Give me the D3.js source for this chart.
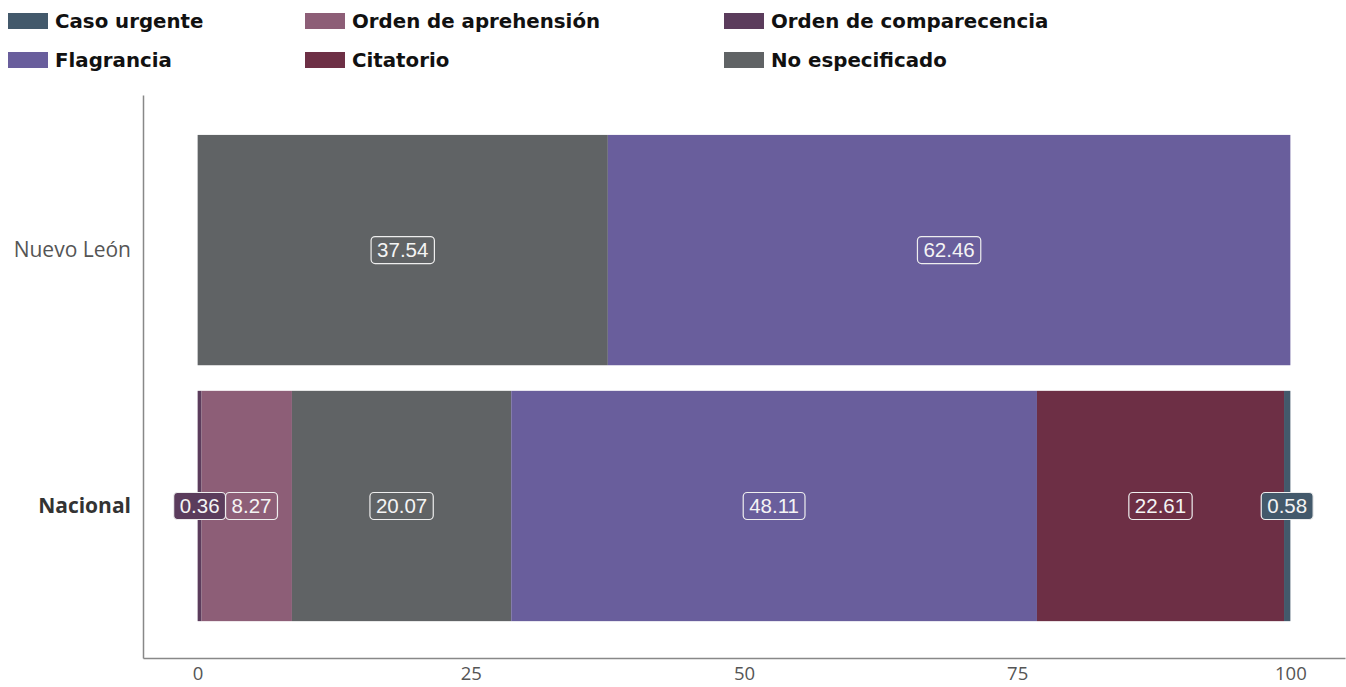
<!DOCTYPE html>
<html>
<head>
<meta charset="utf-8">
<script src="https://cdn.jsdelivr.net/npm/d3@7"></script>
<style>
  body { margin: 0; background: #fff; }
  svg { display: block; }
</style>
</head>
<body>
<svg id="chart" width="1346" height="687"></svg>
<script>
// Categories on the y axis
var regions = ['Nuevo León', 'Nacional']
// Series in stacking order (left to right)
var seriesNames = ['Orden de comparecencia', 'Orden de aprehensión', 'No especificado', 'Flagrancia', 'Citatorio', 'Caso urgente']
// Values per series, one per region
var ordenComparecencia = [0, 0.36]
var ordenAprehension = [0, 8.27]
var noEspecificado = [37.54, 20.07]
var flagrancia = [62.46, 48.11]
var citatorio = [0, 22.61]
var casoUrgente = [0, 0.58]
var xTicks = [0, 25, 50, 75, 100]

// Legend order as in the picture
var legendNames = ['Caso urgente', 'Orden de aprehensión', 'Orden de comparecencia', 'Flagrancia', 'Citatorio', 'No especificado']

var colors = {
  'Caso urgente': '#43596b',
  'Orden de aprehensión': '#8d5e77',
  'Orden de comparecencia': '#5b3c5c',
  'Flagrancia': '#695e9c',
  'Citatorio': '#6d2f45',
  'No especificado': '#606365'
}

var seriesValues = [ordenComparecencia, ordenAprehension, noEspecificado, flagrancia, citatorio, casoUrgente]

// build rows for d3.stack
var rows = regions.map(function(r, i) {
  var row = { region: r }
  seriesNames.forEach(function(s, j) { row[s] = seriesValues[j][i] })
  return row
})

var svg = d3.select('#chart')

var x = d3.scaleLinear().domain([-5, 105]).range([143, 1345])
var y = d3.scaleBand().domain(regions).range([95, 658]).paddingInner(0.1).paddingOuter(0.15).align(0.52)

var stack = d3.stack().keys(seriesNames)
var layers = stack(rows)

// Legend
var legend = svg.append('g')
var colX = [8, 305, 724]
legendNames.forEach(function(name, i) {
  var col = i % 3, row = Math.floor(i / 3)
  var g = legend.append('g').attr('transform', 'translate(' + colX[col] + ',' + (13 + row * 39) + ')')
  g.append('rect').attr('width', 40).attr('height', 16).attr('fill', colors[name])
  g.append('text')
    .attr('x', 47).attr('y', 15)
    .attr('font-family', 'DejaVu Sans, sans-serif')
    .attr('font-weight', 700)
    .attr('font-size', 19.8)
    .attr('fill', '#111')
    .text(name)
})

// Bars
var layerG = svg.append('g').selectAll('g')
  .data(layers)
  .join('g')
  .attr('fill', function(d) { return colors[d.key] })

layerG.selectAll('rect')
  .data(function(d) { return d })
  .join('rect')
  .attr('x', function(d) { return x(d[0]) })
  .attr('width', function(d) { return Math.max(0, x(d[1]) - x(d[0])) })
  .attr('y', function(d) { return y(d.data.region) })
  .attr('height', y.bandwidth())

// Axes
var xAxis = d3.axisBottom(x).tickValues(xTicks).tickSize(0).tickPadding(9)
var gx = svg.append('g').attr('transform', 'translate(0,658)').call(xAxis)
gx.select('.domain').attr('stroke', '#888').attr('stroke-width', 1.5)
gx.selectAll('text')
  .attr('font-family', 'Open Sans, sans-serif')
  .attr('font-size', 18.5)
  .attr('fill', '#555')

var yAxis = d3.axisLeft(y).tickSize(0).tickPadding(12)
var gy = svg.append('g').attr('transform', 'translate(143,0)').call(yAxis)
gy.select('.domain').attr('stroke', '#888').attr('stroke-width', 1.5)
gy.selectAll('text')
  .attr('font-family', 'Open Sans, sans-serif')
  .attr('font-size', 21)
  .attr('fill', function(d) { return d === 'Nacional' ? '#333' : '#555' })
  .attr('font-weight', function(d) { return d === 'Nacional' ? 700 : 400 })

// Value labels
var labels = []
layers.forEach(function(layer) {
  layer.forEach(function(d) {
    var v = d[1] - d[0]
    if (v > 0) labels.push({ key: layer.key, value: v, cx: x((d[0] + d[1]) / 2), cy: y(d.data.region) + y.bandwidth() / 2 })
  })
})

var labelG = svg.append('g')
var placed = []
labels.forEach(function(l) {
  var g = labelG.append('g')
  var t = g.append('text')
    .attr('font-family', 'Liberation Sans, Arial, sans-serif')
    .attr('font-size', 20.5)
    .attr('fill', '#f4f4f4')
    .attr('text-anchor', 'middle')
    .attr('dy', '0.35em')
    .text(d3.format('.2f')(l.value))
  var w = t.node().getComputedTextLength() + 12
  var h = 27
  var cx = l.cx
  // push right if overlapping the previous label in the same row
  placed.forEach(function(p) {
    if (p.cy === l.cy && cx - w / 2 < p.right) cx = p.right + w / 2
  })
  placed.push({ cy: l.cy, right: cx + w / 2 })
  g.attr('transform', 'translate(' + cx + ',' + l.cy + ')')
  g.insert('rect', 'text')
    .attr('x', -w / 2).attr('y', -h / 2)
    .attr('width', w).attr('height', h)
    .attr('rx', 4)
    .attr('fill', colors[l.key])
    .attr('stroke', '#eee')
    .attr('stroke-width', 1.2)
})
</script>
</body>
</html>
